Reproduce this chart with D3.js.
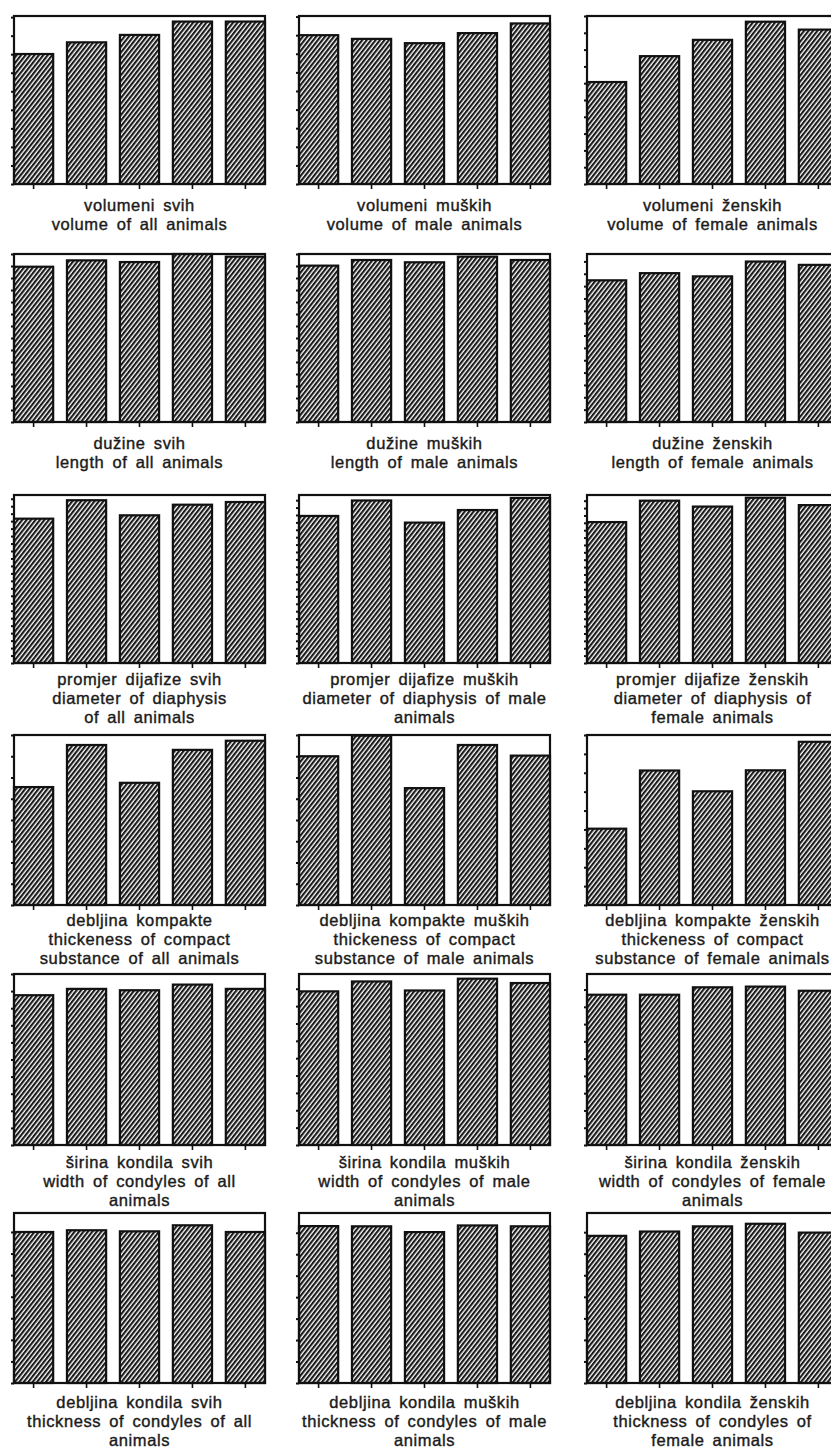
<!DOCTYPE html>
<html>
<head>
<meta charset="utf-8">
<script src="https://cdn.jsdelivr.net/npm/d3@7"></script>
<style>
  html, body { margin: 0; padding: 0; background: #fff; }
  svg { display: block; }
  .lbl { font-family: "Liberation Sans", Arial, Helvetica, sans-serif; font-size: 16.5px;
         letter-spacing: 0.6px; word-spacing: 3px; fill: #1b1b1b;
         stroke: #1b1b1b; stroke-width: 0.4px; }
</style>
</head>
<body>
<svg id="chart" width="831" height="1455"></svg>
<script>
// Five groups per panel (unlabelled on the axis)
const categories = ["1", "2", "3", "4", "5"];

// Bar heights, in units of one y tick interval
const volumeAll          = [7.01, 7.64, 8.04, 8.76, 8.76];
const volumeMale         = [8.00, 7.80, 7.57, 8.11, 8.63];
const volumeFemale       = [6.07, 7.61, 8.58, 9.66, 9.19];
const lengthAll          = [12.94, 13.47, 13.33, 14.00, 13.78];
const lengthMale         = [13.03, 13.50, 13.31, 13.78, 13.50];
const lengthFemale       = [11.47, 12.05, 11.79, 12.99, 12.72];
const diaphysisAll       = [19.33, 21.80, 19.78, 21.20, 21.56];
const diaphysisMale      = [19.87, 21.96, 18.97, 20.67, 22.30];
const diaphysisFemale    = [19.10, 22.00, 21.20, 22.40, 21.40];
const compactAll         = [5.55, 7.53, 5.75, 7.30, 7.73];
const compactMale        = [7.00, 7.97, 5.50, 7.53, 7.03];
const compactFemale      = [4.04, 7.12, 6.02, 7.13, 8.64];
const condWidthAll       = [8.76, 9.13, 9.05, 9.38, 9.13];
const condWidthMale      = [8.85, 9.42, 8.90, 9.58, 9.33];
const condWidthFemale    = [8.70, 8.70, 9.13, 9.17, 8.93];
const condThickAll       = [7.00, 7.08, 7.03, 7.31, 7.00];
const condThickMale      = [7.31, 7.30, 7.03, 7.34, 7.30];
const condThickFemale    = [6.83, 7.03, 7.27, 7.39, 6.98];

// Top of each panel's y axis (same units)
const axisMaxRow1 = [9.06, 9.03, 10];
const axisMaxRow2 = [14, 14, 13.6];
const axisMaxRow3 = [22.5, 22.7, 22.77];
const axisMaxRow4 = [8, 8, 9];
const axisMaxRow5 = [10, 9.85, 9.9];
const axisMaxRow6 = [7.88, 7.92, 7.89];

// Captions (Croatian / English)
const captionsRow1 = [
  ["volumeni svih", "volume of all animals"],
  ["volumeni muških", "volume of male animals"],
  ["volumeni ženskih", "volume of female animals"]];
const captionsRow2 = [
  ["dužine svih", "length of all animals"],
  ["dužine muških", "length of male animals"],
  ["dužine ženskih", "length of female animals"]];
const captionsRow3 = [
  ["promjer dijafize svih", "diameter of diaphysis", "of all animals"],
  ["promjer dijafize muških", "diameter of diaphysis of male", "animals"],
  ["promjer dijafize ženskih", "diameter of diaphysis of", "female animals"]];
const captionsRow4 = [
  ["debljina kompakte", "thickeness of compact", "substance of all animals"],
  ["debljina kompakte muških", "thickeness of compact", "substance of male animals"],
  ["debljina kompakte ženskih", "thickeness of compact", "substance of female animals"]];
const captionsRow5 = [
  ["širina kondila svih", "width of condyles of all", "animals"],
  ["širina kondila muških", "width of condyles of male", "animals"],
  ["širina kondila ženskih", "width of condyles of female", "animals"]];
const captionsRow6 = [
  ["debljina kondila svih", "thickness of condyles of all", "animals"],
  ["debljina kondila muških", "thickness of condyles of male", "animals"],
  ["debljina kondila ženskih", "thickness of condyles of", "female animals"]];

const rowValues = [
  [volumeAll, volumeMale, volumeFemale],
  [lengthAll, lengthMale, lengthFemale],
  [diaphysisAll, diaphysisMale, diaphysisFemale],
  [compactAll, compactMale, compactFemale],
  [condWidthAll, condWidthMale, condWidthFemale],
  [condThickAll, condThickMale, condThickFemale]];
const rowMax = [axisMaxRow1, axisMaxRow2, axisMaxRow3, axisMaxRow4, axisMaxRow5, axisMaxRow6];
const rowCaptions = [captionsRow1, captionsRow2, captionsRow3, captionsRow4, captionsRow5, captionsRow6];

// Page layout
const colLeft = [14, 299, 587];
const panelW = 251;
const rowTop = [16, 254, 495, 735, 974, 1213];
const rowBottom = [184, 422, 663, 905, 1145, 1383];
const captionBase = [211, 449, 685, 926, 1168, 1408];
const lineStep = 19;
const ink = "#111";

const svg = d3.select("#chart");

// Diagonal hatch used for every bar
const defs = svg.append("defs");
const hatch = defs.append("pattern")
  .attr("id", "hatch")
  .attr("patternUnits", "userSpaceOnUse")
  .attr("width", 3.5).attr("height", 10)
  .attr("patternTransform", "rotate(38)");
hatch.append("rect").attr("width", 3.5).attr("height", 10).attr("fill", "#fff");
hatch.append("rect").attr("x", 0).attr("width", 2.15).attr("height", 10).attr("fill", "#1a1a1a");

const x = d3.scaleBand().domain(categories).range([0, panelW]).paddingInner(0.26).paddingOuter(0);

rowValues.forEach((row, r) => {
  row.forEach((values, c) => {
    const g = svg.append("g").attr("transform", `translate(${colLeft[c]},0)`);
    const yMax = rowMax[r][c];
    const y = d3.scaleLinear().domain([0, yMax]).range([rowBottom[r], rowTop[r]]);

    // bars
    g.selectAll("rect.bar")
      .data(values.map((v, i) => ({ k: categories[i], v })))
      .join("rect")
      .attr("class", "bar")
      .attr("x", d => x(d.k))
      .attr("width", x.bandwidth())
      .attr("y", d => y(d.v))
      .attr("height", d => y(0) - y(d.v))
      .attr("fill", "url(#hatch)")
      .attr("stroke", ink)
      .attr("stroke-width", 2.2);

    // frame
    g.append("rect")
      .attr("x", 0).attr("y", y(yMax))
      .attr("width", panelW).attr("height", y(0) - y(yMax))
      .attr("fill", "none").attr("stroke", ink).attr("stroke-width", 2.2);

    // left ticks
    const yAxis = d3.axisLeft(y)
      .tickValues(d3.range(0, Math.floor(yMax) + 1))
      .tickSize(3).tickSizeOuter(0).tickFormat("");
    const ya = g.append("g").call(yAxis);
    ya.select(".domain").remove();
    ya.selectAll(".tick line").attr("stroke", ink).attr("stroke-width", 2);

    // bottom ticks
    const xAxis = d3.axisBottom(x).tickSize(5).tickSizeOuter(0).tickFormat("");
    const xa = g.append("g").attr("transform", `translate(0,${y(0)})`).call(xAxis);
    xa.select(".domain").remove();
    xa.selectAll(".tick line").attr("stroke", ink).attr("stroke-width", 1.6);

    // caption
    const t = g.append("text")
      .attr("class", "lbl")
      .attr("text-anchor", "middle");
    rowCaptions[r][c].forEach((line, i) => {
      t.append("tspan")
        .attr("x", panelW / 2)
        .attr("y", captionBase[r] + i * lineStep)
        .text(line);
    });
  });
});
</script>
</body>
</html>
